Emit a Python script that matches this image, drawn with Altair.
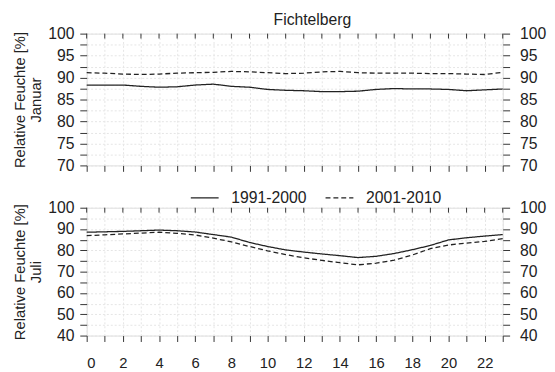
import altair as alt
import pandas as pd

hours = list(range(24))
periods = ["1991-2000", "2001-2010"]
jan_1991 = [88.3, 88.3, 88.3, 88.0, 87.8, 87.9, 88.3, 88.5, 88.0, 87.8, 87.3, 87.1,
            87.0, 86.8, 86.8, 86.9, 87.3, 87.5, 87.4, 87.4, 87.3, 87.0, 87.2, 87.4]
jan_2001 = [91.1, 91.0, 90.8, 90.7, 90.8, 91.0, 91.1, 91.2, 91.4, 91.3, 91.1, 90.9,
            91.0, 91.3, 91.4, 91.1, 91.0, 91.0, 91.0, 90.9, 90.9, 90.8, 90.7, 91.2]
jul_1991 = [88.5, 88.7, 88.9, 89.2, 89.5, 89.2, 88.6, 87.4, 86.2, 83.7, 81.8, 80.2,
            79.2, 78.3, 77.5, 76.6, 77.2, 78.5, 80.3, 82.3, 84.9, 85.9, 86.7, 87.4]
jul_2001 = [86.9, 87.3, 87.7, 88.1, 88.5, 88.0, 87.2, 85.7, 84.0, 81.8, 79.8, 78.0,
            76.5, 75.3, 74.2, 73.2, 74.0, 75.4, 77.8, 80.8, 82.5, 83.4, 84.2, 85.5]

FONT = "Liberation Sans"
TXT = "#222222"

def frame(v1, v2):
    return pd.DataFrame({
        "h": hours * 2,
        "v": v1 + v2,
        "p": [periods[0]] * 24 + [periods[1]] * 24,
    })

ticks_df = pd.DataFrame({"h": hours})


def panel(v1, v2, month, dom, step_major, step_minor, show_x_labels, legend, height):
    df = frame(v1, v2)
    yvals = []
    v = dom[0]
    while v <= dom[1] + 1e-9:
        yvals.append(v)
        v += step_minor
    label_expr = f"datum.value % {step_major} === 0 ? datum.label : ''"
    xaxis = alt.Axis(
        values=hours,
        labels=show_x_labels,
        labelExpr="datum.value % 2 === 0 ? datum.label : ''",
        labelFontSize=15, labelFont=FONT, labelColor=TXT, labelPadding=14,
        tickSize=6, tickColor="#333", domain=False,
        grid=True, gridColor="#e4e4e4", gridDash=[2, 2],
        title=None,
    )
    x = alt.X("h:Q", scale=alt.Scale(domain=[0, 23], nice=False, zero=False), axis=xaxis)
    yscale = alt.Scale(domain=dom, nice=False, zero=False)
    yleft = alt.Axis(
        values=yvals, labelExpr=label_expr, orient="left",
        labelFontSize=16, labelFont=FONT, labelColor=TXT, labelPadding=6,
        tickSize=7, tickColor="#333", domain=False,
        grid=True, gridColor="#e4e4e4", gridDash=[2, 2],
        title=["Relative Feuchte [%]", month], titleFont=FONT, titleFontSize=15,
        titleFontWeight="normal", titleColor=TXT, titlePadding=4, titleLineHeight=17,
    )
    yright = alt.Axis(
        values=yvals, labelExpr=label_expr, orient="right",
        labelFontSize=16, labelFont=FONT, labelColor=TXT, labelPadding=10,
        tickSize=7, tickColor="#333", domain=False, grid=False, title=None,
    )
    if legend:
        leg = alt.Legend(
            title=None, orient="none", direction="horizontal",
            legendX=105, legendY=-25,
            symbolType="stroke", symbolSize=800, symbolStrokeWidth=1.3,
            symbolStrokeColor="#222", labelFont=FONT, labelFontSize=16,
            labelColor=TXT, columnPadding=16, labelOffset=12,
        )
    else:
        leg = None
    lines = alt.Chart(df).mark_line(color="#222222", strokeWidth=1.3).encode(
        x=x,
        y=alt.Y("v:Q", scale=yscale, axis=yleft),
        strokeDash=alt.StrokeDash(
            "p:N",
            scale=alt.Scale(domain=periods, range=[[1, 0], [5, 3]]),
            legend=leg,
        ),
    )
    right = alt.Chart(df).mark_point(opacity=0).encode(
        x=x,
        y=alt.Y("v:Q", scale=yscale, axis=yright),
    )
    top_ticks = alt.Chart(ticks_df).mark_rule(color="#333", strokeWidth=1).encode(
        x=x, y=alt.value(0), y2=alt.value(5)
    )
    return alt.layer(lines, right, top_ticks).resolve_axis(y="independent").properties(
        width=423, height=height
    )


top = panel(jan_1991, jan_2001, "Januar", [70, 100], 5, 2.5, False, False, 134).properties(
    title=alt.TitleParams("Fichtelberg", font=FONT, fontSize=16, fontWeight="normal",
                          color=TXT, anchor="middle", offset=-2, dx=18)
)
bottom = panel(jul_1991, jul_2001, "Juli", [40, 100], 10, 5, True, True, 130)

chart = alt.vconcat(top, bottom, spacing=8).resolve_legend(strokeDash="independent").properties(
    padding={"left": 3, "top": 0, "right": 0, "bottom": 0}
).configure_view(stroke="#222", strokeWidth=1.2).configure(background="white")

chart.save("out.html", embed_options={"renderer": "svg", "actions": False})
